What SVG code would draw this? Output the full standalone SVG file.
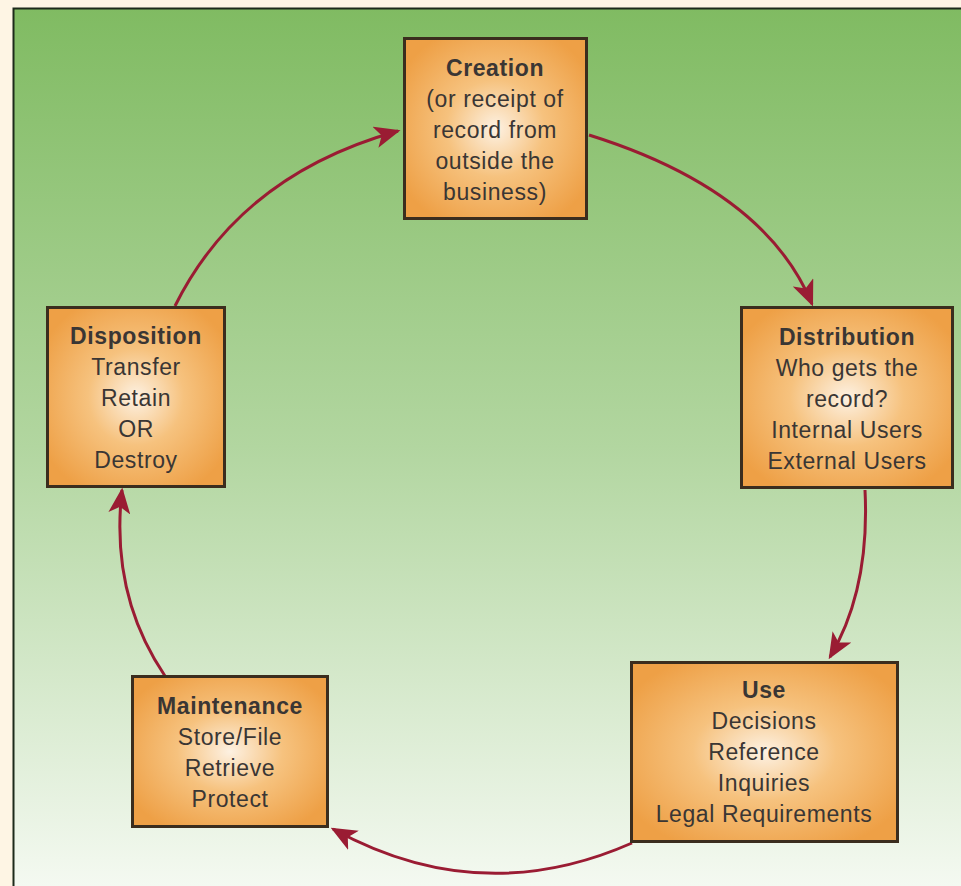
<svg xmlns="http://www.w3.org/2000/svg" width="961" height="886" viewBox="0 0 961 886">
<defs>
<linearGradient id="bg" x1="0" y1="0" x2="0" y2="1">
<stop offset="0" stop-color="#80bb62"/>
<stop offset="0.5" stop-color="#b2d6a0"/>
<stop offset="1" stop-color="#f4f9f1"/>
</linearGradient>
<radialGradient id="box" cx="0.5" cy="0.5" r="0.6">
<stop offset="0" stop-color="#fdf1e2"/>
<stop offset="0.45" stop-color="#f6c27e"/>
<stop offset="1" stop-color="#eea046"/>
</radialGradient>
<marker id="ahb" viewBox="0 0 10 10" refX="9" refY="5" markerWidth="26" markerHeight="22" markerUnits="userSpaceOnUse" orient="auto" preserveAspectRatio="none">
<path d="M0,0 L10,5 L0,10 L2.5,5 Z" fill="#9a1c33"/>
</marker>
</defs>
<style>
.node rect{fill:url(#box);stroke:#3b2d1e;stroke-width:3}
.node text{font-size:23px;letter-spacing:0.6px;fill:#3a3634;text-anchor:middle}
.node .t{font-weight:bold}
.conn path{fill:none;stroke:#9a1c33;stroke-width:3;marker-end:url(#ahb)}
</style>
<rect x="0" y="0" width="961" height="886" fill="#fef5e4"/>
<rect x="13" y="8" width="948" height="878" fill="url(#bg)"/>
<path d="M13.5,886 V8.5 H961" fill="none" stroke="#1d2a1a" stroke-width="2"/>
<g class="conn">
<path d="M175,306 Q240,175 398,131"/>
<path d="M589,135 Q765,190 812,304"/>
<path d="M865,490 Q870,590 830,657"/>
<path d="M632,843 Q480,910 333,829"/>
<path d="M165,676 Q110,595 122,490"/>
</g>
<g font-family="Liberation Sans, Arial, Helvetica, sans-serif">
<g id="creation" class="node">
<rect x="404.5" y="38.5" width="182" height="180"/>
<text x="495" y="76" class="t">Creation</text>
<text x="495" y="107">(or receipt of</text>
<text x="495" y="138">record from</text>
<text x="495" y="169">outside the</text>
<text x="495" y="200">business)</text>
</g>
<g id="disposition" class="node">
<rect x="47.5" y="307.5" width="177" height="179"/>
<text x="136" y="344" class="t">Disposition</text>
<text x="136" y="375">Transfer</text>
<text x="136" y="406">Retain</text>
<text x="136" y="437">OR</text>
<text x="136" y="468">Destroy</text>
</g>
<g id="distribution" class="node">
<rect x="741.5" y="307.5" width="211" height="180"/>
<text x="847" y="345" class="t">Distribution</text>
<text x="847" y="376">Who gets the</text>
<text x="847" y="407">record?</text>
<text x="847" y="438">Internal Users</text>
<text x="847" y="469">External Users</text>
</g>
<g id="use" class="node">
<rect x="631.5" y="662.5" width="266" height="179"/>
<text x="764" y="698" class="t">Use</text>
<text x="764" y="729">Decisions</text>
<text x="764" y="760">Reference</text>
<text x="764" y="791">Inquiries</text>
<text x="764" y="822">Legal Requirements</text>
</g>
<g id="maintenance" class="node">
<rect x="132.5" y="676.5" width="195" height="150"/>
<text x="230" y="714" class="t">Maintenance</text>
<text x="230" y="745">Store/File</text>
<text x="230" y="776">Retrieve</text>
<text x="230" y="807">Protect</text>
</g>
</g>
</svg>
